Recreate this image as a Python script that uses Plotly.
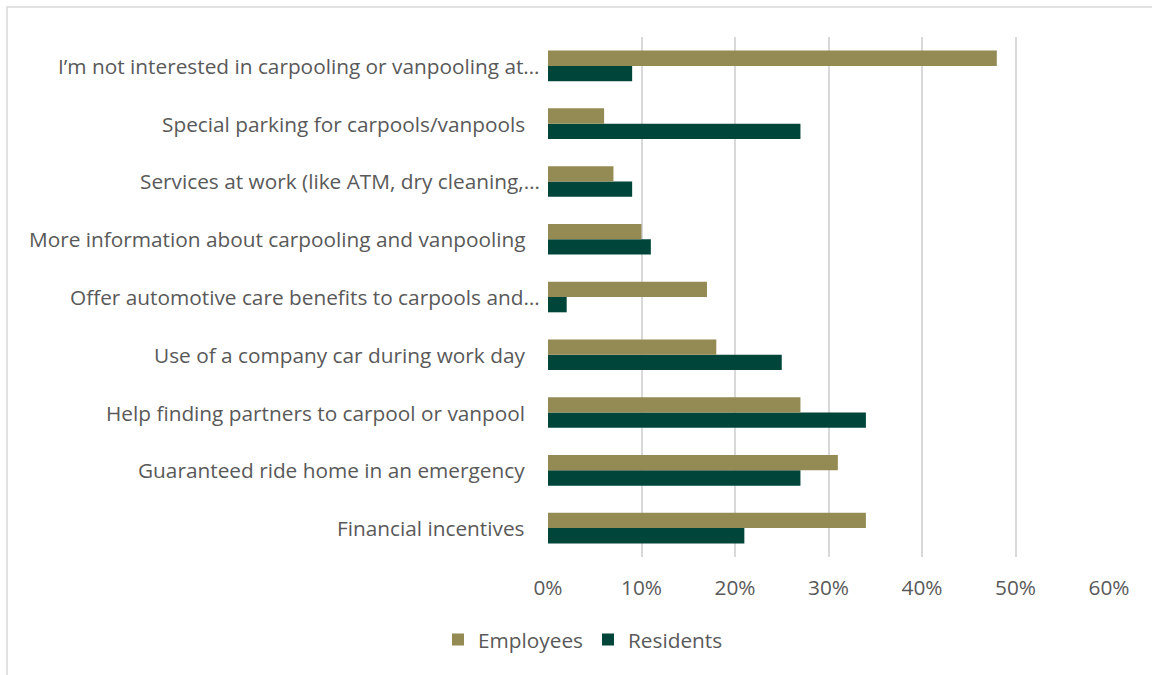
import plotly.graph_objects as go

# Survey responses, listed bottom-to-top as they appear on the y axis
categories = [
    "Financial incentives",
    "Guaranteed ride home in an emergency",
    "Help finding partners to carpool or vanpool",
    "Use of a company car during work day",
    "Offer automotive care benefits to carpools and…",
    "More information about carpooling and vanpooling",
    "Services at work (like ATM, dry cleaning,…",
    "Special parking for carpools/vanpools",
    "I’m not interested in carpooling or vanpooling at…",
]
employees = [0.34, 0.31, 0.27, 0.18, 0.17, 0.10, 0.07, 0.06, 0.48]
residents = [0.21, 0.27, 0.34, 0.25, 0.02, 0.11, 0.09, 0.27, 0.09]

x_ticks = [0, 0.1, 0.2, 0.3, 0.4, 0.5, 0.6]

EMP_COLOR = "#948A54"
RES_COLOR = "#00453A"
TEXT_COLOR = "#595959"
GRID_COLOR = "#D9D9D9"
FONT = "'Open Sans', Lato, sans-serif"
FSIZE = 20.8

W, H = 1152, 675
M_L, M_R, M_T, M_B = 548, 43, 37, 118
plot_w = W - M_L - M_R
plot_h = H - M_T - M_B

fig = go.Figure()
# Residents first so it sits below Employees inside each group
fig.add_trace(go.Bar(
    y=categories, x=residents, orientation="h", name="Residents",
    marker=dict(color=RES_COLOR, line=dict(width=0)), legendrank=2,
))
fig.add_trace(go.Bar(
    y=categories, x=employees, orientation="h", name="Employees",
    marker=dict(color=EMP_COLOR, line=dict(width=0)), legendrank=1,
))

# Category labels, right-aligned against the value axis
annotations = []
for cat in categories:
    shift = -6 if cat.endswith("…") else -21
    annotations.append(dict(
        x=0, xref="paper", y=cat, yref="y", text=cat, showarrow=False,
        xanchor="right", yanchor="middle", xshift=shift,
        font=dict(family=FONT, size=FSIZE, color=TEXT_COLOR),
    ))

# Light border around the chart area
border = dict(
    type="rect", xref="paper", yref="paper",
    x0=(7 - M_L) / plot_w, x1=(W + 10 - M_L) / plot_w,
    y0=-(H + 10 - M_T - plot_h) / plot_h, y1=(plot_h + M_T - 7) / plot_h,
    line=dict(color=GRID_COLOR, width=1.5), fillcolor="rgba(0,0,0,0)", layer="below",
)

fig.update_layout(
    width=W, height=H,
    margin=dict(l=M_L, r=M_R, t=M_T, b=M_B),
    paper_bgcolor="white", plot_bgcolor="white",
    barmode="group", bargap=0.47, bargroupgap=0,
    font=dict(family=FONT, size=FSIZE, color=TEXT_COLOR),
    xaxis=dict(
        range=[0, 0.6], tickvals=x_ticks, tickformat=".0%",
        showgrid=True, gridcolor=GRID_COLOR, gridwidth=1.5,
        zeroline=False, showline=False, ticks="",
        ticklabelstandoff=16,
        tickfont=dict(family=FONT, size=FSIZE, color=TEXT_COLOR),
        fixedrange=True,
    ),
    yaxis=dict(
        categoryorder="array", categoryarray=categories,
        showticklabels=False, showgrid=False, zeroline=False,
        showline=False, ticks="", fixedrange=True,
    ),
    shapes=[border],
    annotations=annotations,
    showlegend=True,
    legend=dict(
        orientation="h", x=(583 - M_L) / plot_w, xanchor="center",
        y=-(640 - M_T - plot_h) / plot_h, yanchor="middle",
        font=dict(family=FONT, size=FSIZE, color=TEXT_COLOR),
        itemwidth=30, bgcolor="rgba(0,0,0,0)",
    ),
)

fig.write_html("out.html")
